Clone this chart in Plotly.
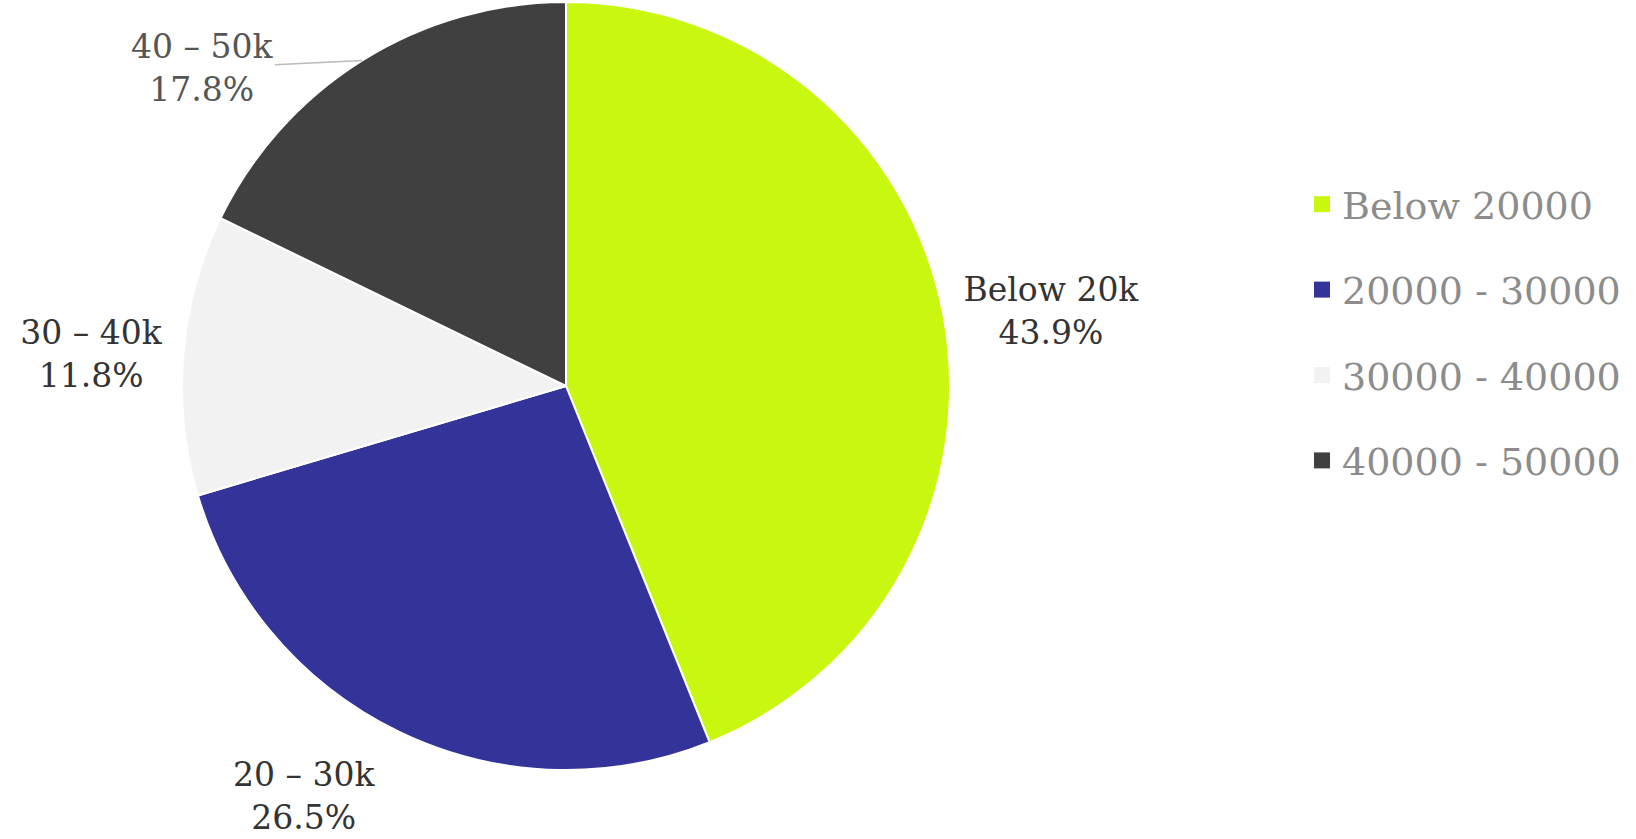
import math
import plotly.graph_objects as go

# Income bands and their shares (%)
slice_labels = ["Below 20k", "20 – 30k", "30 – 40k", "40 – 50k"]
legend_labels = ["Below 20000", "20000 - 30000", "30000 - 40000", "40000 - 50000"]
shares = [43.9, 26.5, 11.8, 17.8]
colors = ["#C8F710", "#333399", "#F2F2F2", "#404040"]

W, H = 1636, 839
cx, cy, r = 566, 386, 384

label_font = "DejaVu Serif, Georgia, serif"

# Slices 2 and 4 get their labels placed as annotations below
text_pos = ["outside", "none", "outside", "none"]

fig = go.Figure()
fig.add_trace(go.Pie(
    labels=slice_labels,
    values=shares,
    sort=False,
    direction="clockwise",
    rotation=0,
    marker=dict(colors=colors, line=dict(color="#FFFFFF", width=2)),
    texttemplate="%{label}<br>%{value:.1f}%",
    textposition=text_pos,
    textfont=dict(family=label_font, size=33, color="#333333"),
    hoverinfo="label+percent",
    showlegend=False,
    automargin=False,
    domain=dict(x=[(cx - r) / W, (cx + r) / W], y=[(H - cy - r) / H, (H - cy + r) / H]),
))


def rim_point(i):
    """Paper coordinates of the rim at the middle of slice i."""
    total = sum(shares)
    frac = (sum(shares[:i]) + shares[i] / 2) / total
    a = frac * 2 * math.pi
    return (cx + r * math.sin(a)) / W, 1 - (cy - r * math.cos(a)) / H


# Label under the 20–30k slice, set a little away from the rim
px, py = rim_point(1)
fig.add_annotation(
    x=px, y=py, xref="paper", yref="paper",
    text=f"{slice_labels[1]}<br>{shares[1]:.1f}%",
    showarrow=False, xanchor="center", yanchor="middle",
    xshift=-95, yshift=-64,
    font=dict(family=label_font, size=33, color="#333333"),
)

# Leader-line label for the 40–50k slice
px, py = rim_point(3)
fig.add_annotation(
    x=px, y=py, xref="paper", yref="paper",
    text=f"{slice_labels[3]}<br>{shares[3]:.1f}%",
    showarrow=True, arrowhead=0, arrowwidth=1.5, arrowcolor="#BBBBBB",
    ax=-160, ay=8,
    font=dict(family=label_font, size=33, color="#555555"),
)

# Legend entries, one group each so the spacing can be set
for name, col in zip(legend_labels, colors):
    fig.add_trace(go.Scatter(
        x=[None], y=[None], mode="markers", name=name, legendgroup=name,
        marker=dict(symbol="square", size=16, color=col),
        hoverinfo="skip",
    ))

fig.update_layout(
    width=W, height=H,
    margin=dict(l=0, r=0, t=0, b=0, autoexpand=False),
    paper_bgcolor="#FFFFFF", plot_bgcolor="#FFFFFF",
    xaxis=dict(visible=False), yaxis=dict(visible=False),
    legend=dict(
        x=1302 / W, y=1 - 173 / H, xanchor="left", yanchor="top",
        font=dict(family=label_font, size=38, color="#8C8C8C"),
        tracegroupgap=33, traceorder="grouped",
        bgcolor="rgba(0,0,0,0)",
    ),
)

fig.write_html("out.html")
